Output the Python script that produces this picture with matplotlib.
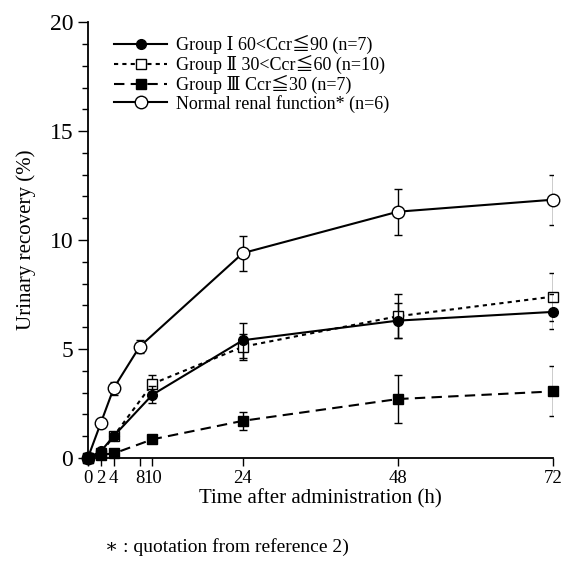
import matplotlib.pyplot as plt
from matplotlib.lines import Line2D

plt.rcParams['font.family'] = ['Liberation Serif', 'DejaVu Serif', 'Noto Sans CJK JP']

t1 = [0, 2, 4, 10, 24, 48, 72]
g1 = [0, 0.3, 1.0, 2.9, 5.4, 6.3, 6.7]
g1_err = [0, 0, 0, 0.4, 0.8, 0.8, 0.8]
g2 = [0, 0.2, 1.0, 3.4, 5.1, 6.5, 7.4]
g2_err = [0, 0, 0, 0.4, 0.6, 1.0, 1.1]
g3 = [0, 0.15, 0.2, 0.85, 1.7, 2.7, 3.05]
g3_err = [0, 0, 0, 0, 0.4, 1.1, 1.15]
t_n = [0, 2, 4, 8, 24, 48, 72]
normal = [0, 1.6, 3.2, 5.1, 9.4, 11.3, 11.85]
normal_err = [0, 0, 0.3, 0.3, 0.8, 1.05, 1.15]

labels = ['Group Ⅰ 60<Ccr≦90 (n=7)', 'Group Ⅱ 30<Ccr≦60 (n=10)',
          'Group Ⅲ Ccr≦30 (n=7)', 'Normal renal function* (n=6)']
xticks = [0, 2, 4, 8, 10, 24, 48, 72]
xticklabels = ['0', '2', '4', '8', '10', '24', '48', '72']

fig = plt.figure(figsize=(5.67, 5.84), dpi=100)
ax = fig.add_axes([0.155, 0.216, 0.82, 0.746])

styles = [
    dict(ls='-', marker='o', ms=7, mfc='black'),
    dict(ls=(0, (2, 2)), marker='s', ms=7, mfc='white'),
    dict(ls=(0, (5, 3)), marker='s', ms=7, mfc='black'),
    dict(ls='-', marker='o', ms=9, mfc='white'),
]
series = [(t1, g1, g1_err), (t1, g2, g2_err), (t1, g3, g3_err), (t_n, normal, normal_err)]
zs = [4, 3, 5, 2]

handles = []
for (x, y, e), st, z in zip(series, styles, zs):
    ax.errorbar(x, y, yerr=e, fmt='none', ecolor='black', capsize=3,
                elinewidth=1, zorder=z)
    ax.plot(x, y, color='black', lw=1.5, mec='black', clip_on=False,
            zorder=z, **st)
    handles.append(Line2D([], [], color='black', lw=1.5, mec='black', **st))

ax.set_xlim(0, 72)
ax.set_ylim(0, 20)
ax.set_xticks(xticks)
ax.set_xticklabels(xticklabels, fontsize=13.5)
ax.set_yticks([0, 5, 10, 15, 20])
ax.set_yticks(range(0, 21), minor=True)
ax.tick_params(axis='y', labelsize=17, length=7, width=1)
ax.tick_params(axis='y', which='minor', length=4, width=1)
ax.tick_params(axis='x', length=6, width=1, pad=3)
ax.spines['top'].set_visible(False)
ax.spines['right'].set_visible(False)
ax.spines['left'].set_linewidth(1.3)
ax.spines['bottom'].set_linewidth(1.3)

ax.set_xlabel('Time after administration (h)', fontsize=15, labelpad=1)
ax.set_ylabel('Urinary recovery (%)', fontsize=15, labelpad=10)

ax.legend(handles, labels, loc='upper left', bbox_to_anchor=(0.03, 1.0),
          frameon=False, fontsize=13, handlelength=2.9, labelspacing=0.05,
          handletextpad=0.5, borderaxespad=0.3)

fig.text(0.185, 0.055, '∗ : quotation from reference 2)', fontsize=14)

fig.savefig('out.png', dpi=100)
